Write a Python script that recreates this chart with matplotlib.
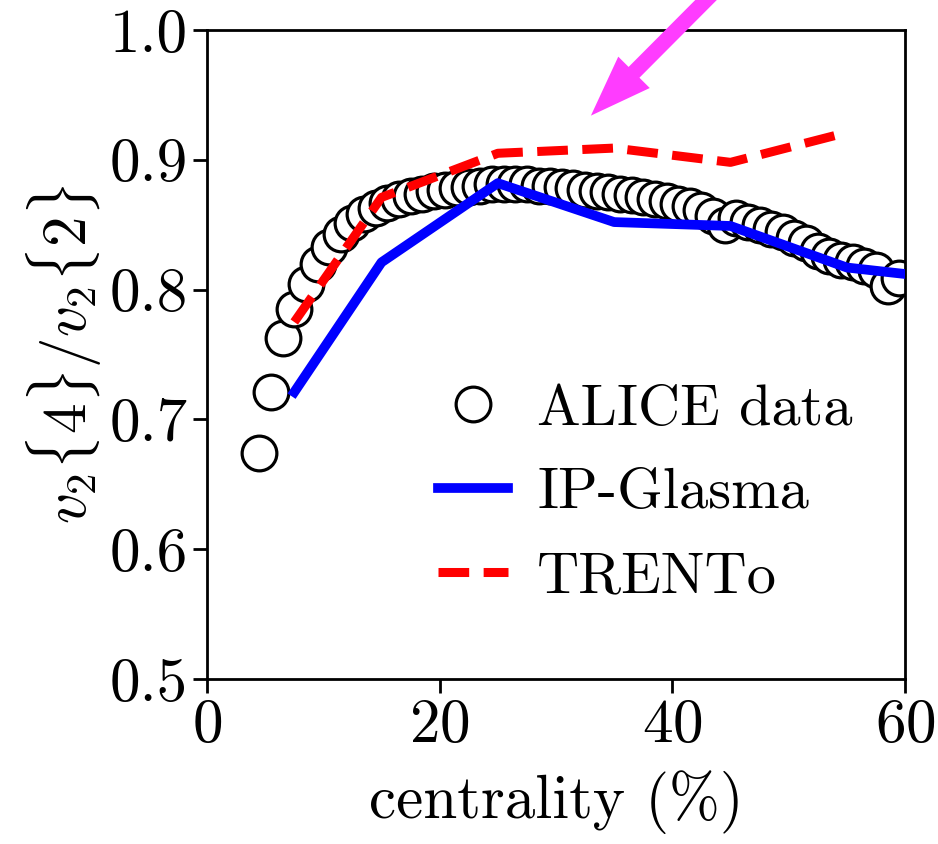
import matplotlib
matplotlib.use("Agg")
import matplotlib.pyplot as plt
import numpy as np

plt.rcParams["font.family"] = "serif"
plt.rcParams["font.serif"] = ["cmr10"]
plt.rcParams["mathtext.fontset"] = "cm"
plt.rcParams["axes.unicode_minus"] = False
plt.rcParams["axes.formatter.use_mathtext"] = True

# ALICE data, 1% centrality bins
alice_cent = np.arange(4.5, 60, 1.0)
alice_ratio = [
    0.674, 0.721, 0.763, 0.785, 0.804, 0.820, 0.833, 0.843, 0.851, 0.858,
    0.863, 0.867, 0.870, 0.872, 0.874, 0.876, 0.877, 0.878, 0.879, 0.880,
    0.881, 0.881, 0.881, 0.881, 0.880, 0.880, 0.879, 0.878, 0.877, 0.876,
    0.875, 0.874, 0.873, 0.871, 0.870, 0.868, 0.866, 0.864, 0.861, 0.857,
    0.850, 0.855, 0.852, 0.850, 0.847, 0.844, 0.840, 0.836, 0.830, 0.826,
    0.823, 0.821, 0.818, 0.815, 0.803, 0.809,
]

ipg_cent = [7.5, 15, 25, 35, 45, 55, 65]
ipg_ratio = [0.721, 0.821, 0.882, 0.852, 0.849, 0.817, 0.807]

trento_cent = [7.5, 15, 25, 35, 45, 55]
trento_ratio = [0.775, 0.871, 0.905, 0.909, 0.898, 0.921]

fig = plt.figure(figsize=(9.38, 8.44), dpi=100)
ax = fig.add_axes([0.2207, 0.1955, 0.7441, 0.769])

ax.plot(alice_cent, alice_ratio, "o", ms=25, mfc="white", mec="black",
        mew=2.3, label="ALICE data", zorder=2)
ax.plot(ipg_cent, ipg_ratio, "-", color="blue", lw=7, label="IP-Glasma",
        zorder=3)
ax.plot(trento_cent, trento_ratio, "--", color="red", lw=6.5,
        dashes=(3.4, 1.6), label="TRENTo", zorder=3)

ax.set_xlim(0, 60)
ax.set_ylim(0.5, 1.0)
ax.set_xticks([0, 20, 40, 60])
ax.set_yticks([0.5, 0.6, 0.7, 0.8, 0.9, 1.0])
ax.set_yticklabels(["0.5", "0.6", "0.7", "0.8", "0.9", "1.0"])
ax.tick_params(direction="out", length=10, width=2, labelsize=44, pad=4)
ax.tick_params(top=False, right=False)
for s in ax.spines.values():
    s.set_linewidth(2)

ax.set_xlabel("centrality (%)", fontsize=44, labelpad=12)
ax.set_ylabel(r"$v_2\{4\}/v_2\{2\}$", fontsize=44, labelpad=4)

ax.legend(loc="upper left", bbox_to_anchor=(0.331, 0.455), frameon=False,
          fontsize=42, handlelength=1.2, handletextpad=0.5,
          labelspacing=0.55, markerscale=1.0, borderpad=0,
          borderaxespad=0)

ax.annotate("", xy=(33.0, 0.934), xytext=(47.0, 1.06),
            xycoords="data", textcoords="data", annotation_clip=False,
            arrowprops=dict(facecolor="#ff3cff", edgecolor="none",
                            width=11, headwidth=32, headlength=44,
                            shrink=0.0))

fig.savefig("out.png", dpi=100)
